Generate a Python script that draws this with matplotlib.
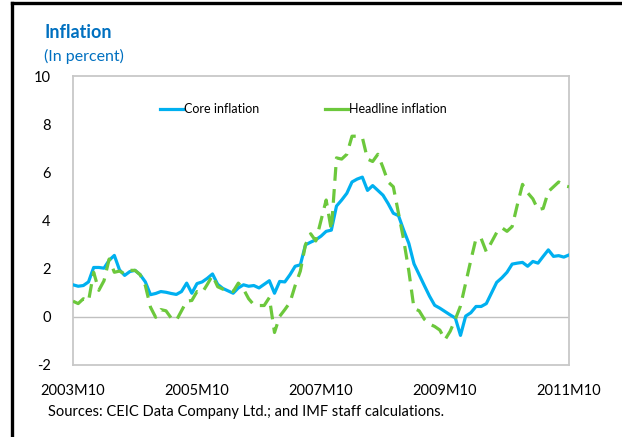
import matplotlib
matplotlib.use("Agg")
import matplotlib.pyplot as plt
from matplotlib.lines import Line2D
import numpy as np

plt.rcParams['font.family'] = ['Lato', 'DejaVu Sans']

# monthly data, 2003M10 .. 2011M10
core = [1.33, 1.27, 1.30, 1.45, 2.05, 2.05, 2.02, 2.35, 2.55, 1.95,
        1.72, 1.88, 1.93, 1.75, 1.45, 0.92, 0.97, 1.05, 1.02, 0.97,
        0.93, 1.05, 1.40, 0.98, 1.38, 1.45, 1.60, 1.78, 1.35, 1.18,
        1.08, 0.98, 1.20, 1.33, 1.27, 1.30, 1.20, 1.35, 1.50, 0.98,
        1.47, 1.45, 1.75, 2.10, 2.16, 2.99, 3.10, 3.20, 3.35, 3.55,
        3.60, 4.60, 4.85, 5.13, 5.60, 5.72, 5.80, 5.25, 5.45, 5.25,
        5.05, 4.70, 4.30, 4.20, 3.60, 3.05, 2.20, 1.75, 1.30, 0.86,
        0.48, 0.36, 0.22, 0.08, -0.05, -0.77, 0.03, 0.17, 0.43, 0.43,
        0.55, 0.99, 1.43, 1.62, 1.85, 2.19, 2.23, 2.26, 2.10, 2.30,
        2.23, 2.51, 2.78, 2.51, 2.54, 2.48, 2.57]
headline = [0.65, 0.55, 0.75, 0.65, 1.85, 1.10, 1.50, 2.40, 1.85, 1.90,
            1.78, 1.93, 1.93, 1.75, 1.30, 0.40, -0.02, 0.30, 0.25, -0.05,
            -0.15, 0.25, 0.65, 0.68, 1.05, 1.00, 1.35, 1.72, 1.25, 1.15,
            1.10, 1.05, 1.40, 1.15, 0.75, 0.50, 0.47, 0.47, 0.80, -0.65,
            0.02, 0.30, 0.60, 1.30, 1.90, 3.00, 3.45, 3.15, 4.00, 4.85,
            3.60, 6.60, 6.55, 6.75, 7.50, 7.50, 7.45, 6.55, 6.45, 6.75,
            6.20, 5.60, 5.40, 4.30, 3.20, 1.90, 0.35, 0.25, -0.10, -0.30,
            -0.40, -0.55, -0.95, -0.60, -0.10, 0.45, 1.40, 2.35, 3.25, 3.25,
            2.70, 3.10, 3.50, 3.70, 3.55, 3.75, 4.65, 5.50, 5.15, 4.90,
            4.45, 4.50, 5.20, 5.40, 5.60, 5.45, 5.40]
xtick_labels = ["2003M10", "2005M10", "2007M10", "2009M10", "2011M10"]
yticks = [-2, 0, 2, 4, 6, 8, 10]

BLUE = '#00b0f0'
GREEN = '#6cc83c'
TITLE = '#0070c0'

fig = plt.figure(figsize=(6.22, 4.37), dpi=100)
ax = fig.add_axes([73/622, 1-365/437, (569-73)/622, (365-76)/437])

x = np.arange(len(core))
ax.plot(x, core, color=BLUE, lw=2.3, solid_joinstyle='round', zorder=3)
ax.plot(x, headline, color=GREEN, lw=2.3, dashes=(4.3, 2.6), zorder=3)
ax.axhline(0, color='#c0c0c0', lw=1.0, zorder=1)

ax.set_xlim(0, 96)
ax.set_ylim(-2, 10)
ax.set_xticks([0, 24, 48, 72, 96])
ax.set_xticklabels(xtick_labels)
ax.set_yticks(yticks)
ax.set_yticklabels([str(v) for v in yticks])
ax.tick_params(axis='both', length=0, labelsize=10.5)
ax.tick_params(axis='y', pad=16)
ax.tick_params(axis='x', pad=14)
for s in ax.spines.values():
    s.set_color('#c8c8c8')
    s.set_linewidth(1.3)

handles = [Line2D([], [], color=BLUE, lw=2.3), Line2D([], [], color=GREEN, lw=2.3)]
ax.legend(handles, ['Core inflation', 'Headline inflation'], loc='center left',
          bbox_to_anchor=((160-73)/496, (365-109)/289), ncol=2, frameon=False,
          fontsize=9, borderpad=0, borderaxespad=0,
          handlelength=1.8, handletextpad=0.1, columnspacing=5.3)

fig.text(44/622, 1-32/437, 'Inflation', color=TITLE, fontsize=13, fontweight='bold',
         ha='left', va='center')
fig.text(44/622, 1-56/437, '(In percent)', color=TITLE, fontsize=11.5,
         ha='left', va='center')
fig.text(48/622, 1-412/437, 'Sources: CEIC Data Company Ltd.; and IMF staff calculations.',
         color='black', fontsize=10.5, ha='left', va='center')

# black frame lines at top and left of the image
fig.add_artist(Line2D([12/622, 1], [1-3/437, 1-3/437], color='black', lw=2.4,
                      transform=fig.transFigure))
fig.add_artist(Line2D([12/622, 12/622], [0, 1-3/437], color='black', lw=2.4,
                      transform=fig.transFigure))

fig.savefig('out.png', dpi=100)
